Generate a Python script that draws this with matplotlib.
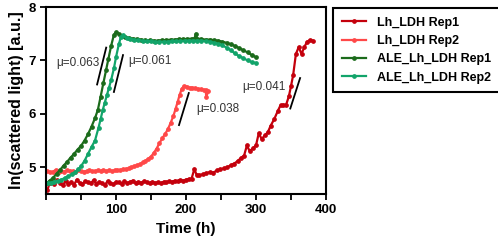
import matplotlib
matplotlib.use("Agg")
import matplotlib.pyplot as plt
from matplotlib.ticker import MultipleLocator

plt.rcParams['font.family'] = ['Liberation Sans', 'DejaVu Sans']

# ---- data ----
t_lh1 = [2, 5, 8, 12, 16, 20, 24, 28, 32, 36, 40, 44, 48, 52, 56, 60, 64, 68, 72, 76, 80, 84, 88, 92, 96,
         100, 104, 108, 112, 116, 120, 124, 128, 132, 136, 140, 144, 148, 152, 156, 160, 164, 168, 172, 176,
         180, 184, 188, 192, 196, 200, 204, 208, 212, 215, 219, 224, 229, 234, 239, 244, 249, 254, 259, 264,
         269, 274, 279, 283, 287, 291, 296, 300, 304, 308, 313, 317, 321, 326, 331, 335, 339, 343, 347, 350,
         353, 357, 361, 365, 369, 373, 377, 381]
y_lh1 = [4.57, 4.70, 4.72, 4.68, 4.76, 4.70, 4.66, 4.75, 4.69, 4.73, 4.67, 4.77, 4.71, 4.68, 4.74, 4.72,
         4.70, 4.76, 4.69, 4.73, 4.70, 4.67, 4.74, 4.71, 4.68, 4.73, 4.72, 4.69, 4.74, 4.70, 4.73, 4.75, 4.70,
         4.73, 4.71, 4.74, 4.72, 4.70, 4.73, 4.71, 4.72, 4.70, 4.73, 4.72, 4.74, 4.73, 4.75, 4.74, 4.76, 4.75,
         4.77, 4.78, 4.79, 4.97, 4.86, 4.85, 4.87, 4.89, 4.91, 4.90, 4.94, 4.96, 4.98, 5.00, 5.04, 5.07, 5.12,
         5.18, 5.22, 5.41, 5.30, 5.36, 5.41, 5.64, 5.53, 5.60, 5.66, 5.78, 5.90, 6.05, 6.16, 6.17, 6.17, 6.33,
         6.52, 6.72, 7.12, 7.25, 7.12, 7.25, 7.35, 7.38, 7.37]

t_lh2 = [2, 6, 10, 14, 18, 22, 26, 30, 34, 38, 42, 46, 50, 54, 58, 62, 66, 70, 74, 78, 82, 86, 90, 94, 98,
         102, 106, 110, 114, 118, 122, 126, 130, 134, 138, 142, 146, 150, 154, 158, 162, 166, 170, 174, 178,
         182, 185, 188, 191, 194, 197, 201, 205, 209, 213, 217, 221, 225, 228, 229, 232]
y_lh2 = [4.93, 4.91, 4.92, 4.95, 4.92, 4.93, 4.92, 4.94, 4.93, 4.93, 4.92, 4.94, 4.93, 4.92, 4.93, 4.94,
         4.93, 4.93, 4.94, 4.93, 4.94, 4.93, 4.94, 4.93, 4.94, 4.95, 4.95, 4.96, 4.97, 4.98, 5.00, 5.02, 5.04,
         5.06, 5.09, 5.12, 5.16, 5.20, 5.27, 5.35, 5.45, 5.54, 5.62, 5.71, 5.83, 5.96, 6.09, 6.22, 6.36, 6.47,
         6.52, 6.51, 6.49, 6.49, 6.48, 6.47, 6.46, 6.45, 6.44, 6.32, 6.43]

t_ale1 = [1, 5, 10, 15, 20, 25, 30, 35, 40, 45, 50, 55, 60, 65, 70, 74, 78, 82, 86, 89, 93, 97, 100, 104,
          108, 113, 118, 124, 130, 136, 142, 148, 154, 160, 166, 172, 178, 184, 190, 196, 202, 208, 212,
          214, 216, 222, 228, 234, 240, 246, 252, 258, 264, 270, 276, 282, 288, 294, 300]
y_ale1 = [4.70, 4.75, 4.80, 4.88, 4.95, 5.03, 5.10, 5.18, 5.25, 5.33, 5.40, 5.50, 5.62, 5.76, 5.92, 6.07,
          6.32, 6.58, 6.83, 7.02, 7.27, 7.48, 7.53, 7.50, 7.46, 7.44, 7.42, 7.41, 7.40, 7.39, 7.38, 7.38,
          7.37, 7.37, 7.38, 7.38, 7.39, 7.39, 7.40, 7.40, 7.40, 7.41, 7.40, 7.50, 7.41, 7.40, 7.39, 7.39,
          7.38, 7.37, 7.35, 7.33, 7.30, 7.27, 7.23, 7.19, 7.15, 7.10, 7.06]

t_ale2 = [3, 7, 12, 17, 22, 27, 32, 37, 42, 46, 50, 55, 60, 65, 70, 75, 78, 81, 84, 87, 90, 93, 97, 100,
          104, 107, 110, 115, 120, 126, 132, 138, 144, 150, 156, 162, 168, 174, 180, 186, 192, 198, 204,
          210, 216, 222, 228, 234, 240, 246, 252, 258, 264, 270, 276, 282, 288, 294, 300]
y_ale2 = [4.70, 4.71, 4.73, 4.75, 4.77, 4.80, 4.83, 4.87, 4.91, 4.96, 5.02, 5.12, 5.25, 5.38, 5.50, 5.74,
          5.90, 6.07, 6.21, 6.35, 6.49, 6.63, 6.85, 7.06, 7.30, 7.44, 7.47, 7.42, 7.40, 7.39, 7.38, 7.37,
          7.36, 7.36, 7.35, 7.35, 7.35, 7.35, 7.36, 7.36, 7.36, 7.37, 7.37, 7.37, 7.37, 7.37, 7.36, 7.35,
          7.33, 7.31, 7.28, 7.24, 7.19, 7.13, 7.08, 7.04, 7.00, 6.97, 6.95]

labels = ["Lh_LDH Rep1", "Lh_LDH Rep2", "ALE_Lh_LDH Rep1", "ALE_Lh_LDH Rep2"]
colors = ["#c4000c", "#ff4848", "#1b6b1b", "#12a46a"]

# slope guide segments (t0, y0, t1, y1) and labels
slopes = [((73, 6.55), (86, 7.24)), ((97, 6.41), (110, 7.10)),
          ((190, 5.79), (204, 6.39)), ((349, 6.10), (363, 6.67))]
mu_text = ["μ=0.063", "μ=0.061", "μ=0.038", "μ=0.041"]
mu_pos = [(76, 6.96, 'right'), (117, 6.98, 'left'), (214, 6.10, 'left'), (280, 6.50, 'left')]

# ---- figure ----
fig = plt.figure(figsize=(4.98, 2.46), dpi=100)
ax = fig.add_axes([46/498, 1-194/246, (326-46)/498, (194-7)/246])

series = [(t_lh1, y_lh1), (t_lh2, y_lh2), (t_ale1, y_ale1), (t_ale2, y_ale2)]
for (t, y), lab, c in zip(series, labels, colors):
    ax.plot(t, y, color=c, lw=1.6, marker='o', ms=2.4, mec=c, mfc=c, label=lab)

for (p0, p1) in slopes:
    ax.plot([p0[0], p1[0]], [p0[1], p1[1]], color='black', lw=1.3)
for txt, (x, y, ha) in zip(mu_text, mu_pos):
    ax.text(x, y, txt, ha=ha, va='center', fontsize=8.5, color='#333333')

ax.set_xlim(0, 400)
ax.set_ylim(4.5, 8)
ax.xaxis.set_major_locator(MultipleLocator(100))
ax.xaxis.set_minor_locator(MultipleLocator(50))
ax.yaxis.set_major_locator(MultipleLocator(1))
ax.set_xticks([100, 200, 300, 400])
ax.set_yticks([5, 6, 7, 8])
for s in ax.spines.values():
    s.set_linewidth(1.5)
ax.tick_params(which='both', direction='out', width=1.3, length=4)
ax.tick_params(labelsize=9.5)
for lbl in ax.get_xticklabels() + ax.get_yticklabels():
    lbl.set_fontweight('bold')
ax.set_xlabel("Time (h)", fontsize=11, fontweight='bold', labelpad=4)
ax.set_ylabel("ln(scattered light) [a.u.]", fontsize=11.5, fontweight='bold', labelpad=3)

leg = ax.legend(loc='upper left', bbox_to_anchor=(333/498, 1-8/246), bbox_transform=fig.transFigure,
                borderaxespad=0, fancybox=False, edgecolor='black', framealpha=1,
                prop={'weight': 'bold', 'size': 9}, handlelength=1.9, handletextpad=0.9,
                labelspacing=0.5, borderpad=0.7)
leg.get_frame().set_linewidth(1.5)

fig.savefig("out.png", dpi=100)
